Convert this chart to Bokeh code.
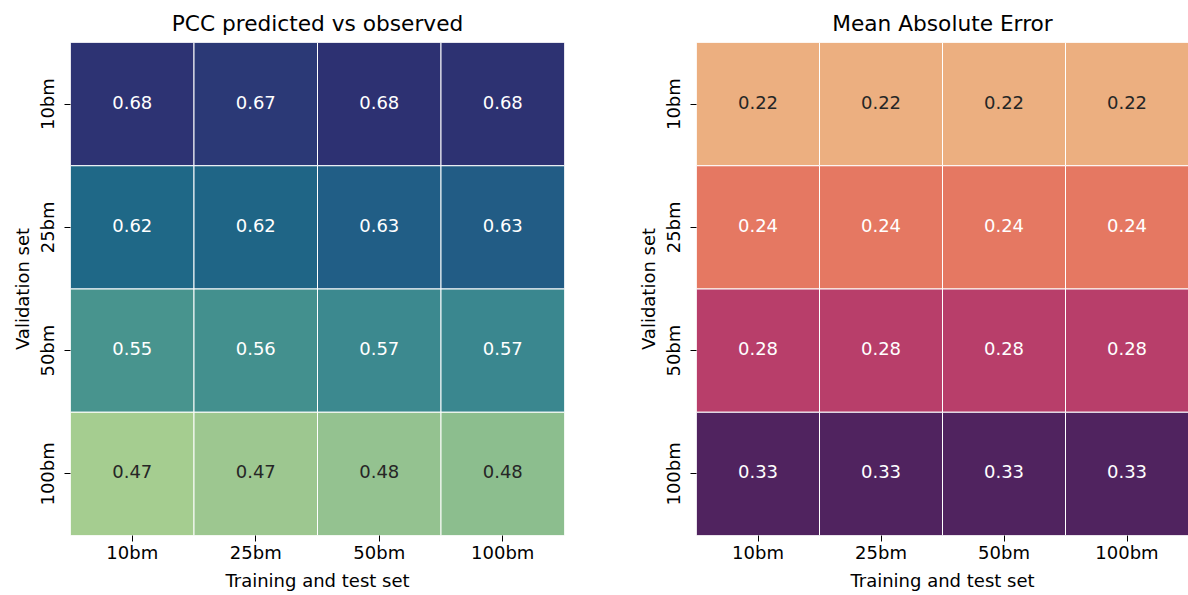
from bokeh.plotting import figure
from bokeh.models import ColumnDataSource, LinearColorMapper, FactorRange
from bokeh.layouts import row
from bokeh.core.properties import value
from bokeh.embed import file_html
from bokeh.resources import INLINE

# ---- data ----
train_sets = ["10bm", "25bm", "50bm", "100bm"]
val_sets = ["10bm", "25bm", "50bm", "100bm"]

pcc_10bm = [0.679, 0.672, 0.681, 0.680]
pcc_25bm = [0.617, 0.620, 0.627, 0.629]
pcc_50bm = [0.552, 0.558, 0.566, 0.569]
pcc_100bm = [0.466, 0.472, 0.478, 0.484]

mae_10bm = [0.2195, 0.2195, 0.2195, 0.2195]
mae_25bm = [0.2435, 0.2435, 0.2435, 0.2435]
mae_50bm = [0.2810, 0.2810, 0.2810, 0.2810]
mae_100bm = [0.3305, 0.3305, 0.3305, 0.3305]

pcc_rows = [pcc_10bm, pcc_25bm, pcc_50bm, pcc_100bm]
mae_rows = [mae_10bm, mae_25bm, mae_50bm, mae_100bm]

# ---- palettes (crest-like and flare-like) ----
crest_anchors = [(0.000, "#a5cd90"), (0.028, "#9dc790"), (0.056, "#94c290"), (0.084, "#8cbe8e"),
                 (0.25, "#67aa8f"), (0.40, "#48948e"), (0.43, "#42908e"), (0.47, "#3b888f"),
                 (0.60, "#28788b"), (0.70, "#1f6887"), (0.72, "#1f6586"), (0.75, "#215e86"),
                 (0.85, "#274c7f"), (0.958, "#2b3a76"), (1.0, "#2d3172")]
flare_anchors = [(0.0, "#ecaf80"), (0.10, "#e9946f"), (0.216, "#e57862"), (0.40, "#d6525f"),
                 (0.554, "#b83e6a"), (0.75, "#83296c"), (1.0, "#50235f")]


def h2r(h):
    h = h.lstrip("#")
    return tuple(int(h[i:i + 2], 16) for i in (0, 2, 4))


def build_palette(anchors, n=256):
    out = []
    for i in range(n):
        t = i / (n - 1)
        for (p0, c0), (p1, c1) in zip(anchors[:-1], anchors[1:]):
            if p0 <= t <= p1:
                f = 0 if p1 == p0 else (t - p0) / (p1 - p0)
                a, b = h2r(c0), h2r(c1)
                rgb = tuple(round(a[k] + (b[k] - a[k]) * f) for k in range(3))
                out.append("#%02x%02x%02x" % rgb)
                break
    return out


def lum(hexc):
    r = []
    for c in h2r(hexc):
        c = c / 255
        r.append(c / 12.92 if c <= 0.03928 else ((c + 0.055) / 1.055) ** 2.4)
    return 0.2126 * r[0] + 0.7152 * r[1] + 0.0722 * r[2]


def heat(rows, anchors, title, width, bl, br):
    pal = build_palette(anchors)
    vals = [v for r in rows for v in r]
    lo, hi = min(vals), max(vals)
    mapper = LinearColorMapper(palette=pal, low=lo, high=hi)
    xs, ys, vs, labels, tcs = [], [], [], [], []
    for vname, r in zip(val_sets, rows):
        for tname, v in zip(train_sets, r):
            xs.append(tname)
            ys.append(vname)
            vs.append(v)
            labels.append("%.2f" % v)
            idx = min(len(pal) - 1, max(0, int((v - lo) / (hi - lo) * len(pal))))
            tcs.append("white" if lum(pal[idx]) < 0.408 else "#262626")
    src = ColumnDataSource(dict(x=xs, y=ys, v=vs, label=labels, tc=tcs))
    p = figure(x_range=FactorRange(*train_sets), y_range=FactorRange(*val_sets[::-1]),
               width=width, height=594, output_backend="svg", toolbar_location=None,
               min_border_left=bl, min_border_right=br, min_border_top=42, min_border_bottom=59,
               title=title)
    p.rect(x="x", y="y", width=1, height=1, source=src,
           fill_color={"field": "v", "transform": mapper}, line_color="white", line_width=1)
    p.text(x="x", y="y", text="label", text_color="tc", source=src, text_align="center",
           text_baseline="middle", text_font=value("DejaVu Sans"), text_font_size="18px",
           y_offset=-2)
    p.outline_line_color = None
    p.grid.visible = False
    p.background_fill_color = "white"
    p.title.align = "center"
    p.title.text_font = "DejaVu Sans"
    p.title.text_font_size = "21.7px"
    p.title.text_font_style = "normal"
    p.title.text_color = "black"
    p.title.standoff = 13
    for ax in (p.xaxis[0], p.yaxis[0]):
        ax.axis_line_color = None
        ax.major_tick_out = 6
        ax.major_tick_in = 0
        ax.major_tick_line_color = "black"
        ax.major_label_text_font = "DejaVu Sans"
        ax.major_label_text_font_size = "18px"
        ax.major_label_text_color = "black"
        ax.axis_label_text_font = "DejaVu Sans"
        ax.axis_label_text_font_size = "18px"
        ax.axis_label_text_font_style = "normal"
        ax.axis_label_text_color = "black"
    p.xaxis.axis_label = "Training and test set"
    p.yaxis.axis_label = "Validation set"
    p.xaxis.major_label_standoff = 0
    p.xaxis.axis_label_standoff = 4
    p.yaxis.major_label_orientation = "vertical"
    p.yaxis.major_label_standoff = 7
    p.yaxis.axis_label_standoff = 1
    return p


p1 = heat(pcc_rows, crest_anchors, "PCC predicted vs observed", 630, 70, 66)
p2 = heat(mae_rows, flare_anchors, "Mean Absolute Error", 558, 66, 0)
layout = row(p1, p2)

open("out.html", "w").write(file_html(layout, INLINE))
